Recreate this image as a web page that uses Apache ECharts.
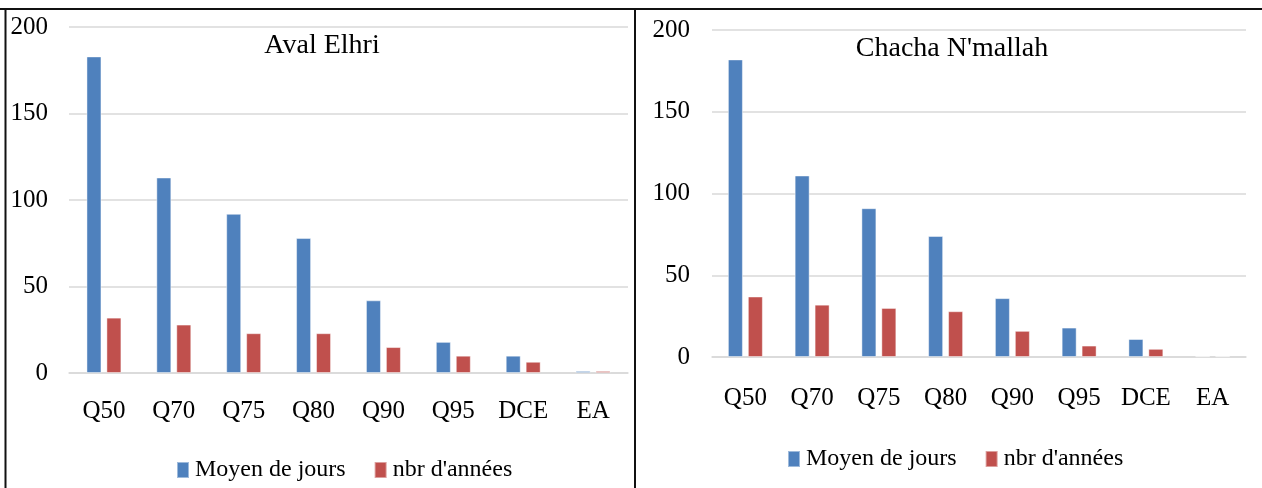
<!DOCTYPE html>
<html>
<head>
<meta charset="utf-8">
<script src="https://cdn.jsdelivr.net/npm/echarts@6/dist/echarts.min.js"></script>
<style>
html,body{margin:0;padding:0;background:#fff;}
#c{width:1262px;height:488px;}
</style>
</head>
<body>
<div id="c"></div>
<script>
const categories = ['Q50','Q70','Q75','Q80','Q90','Q95','DCE','EA'];
const yTicks = [0, 50, 100, 150, 200];
const titleLeft = 'Aval Elhri';
const titleRight = "Chacha N'mallah";
const seriesNames = ['Moyen de jours', "nbr d'années"];
const avalMoyen = [183, 113, 92, 78, 42, 18, 10, 1.2];
const avalAnnees = [32, 28, 23, 23, 15, 10, 6.5, 1.2];
const chachaMoyen = [182, 111, 91, 74, 36, 18, 11, 0.5];
const chachaAnnees = [37, 32, 30, 28, 16, 7, 5, 0.5];

const FONT = '"Liberation Serif", "DejaVu Serif", serif';
const BLUE = '#4F81BD', RED = '#C0504D';

const chart = echarts.init(document.getElementById('c'), null, {renderer: 'canvas'});

function xAxis(gi, margin) {
  return {
    type: 'category', gridIndex: gi, data: categories,
    axisTick: {show: false},
    axisLine: {lineStyle: {color: '#D9D9D9', width: 1.5}},
    axisLabel: {color: '#000', fontFamily: FONT, fontSize: 25, margin: margin, interval: 0}
  };
}
function yAxis(gi, margin) {
  return {
    type: 'value', gridIndex: gi, min: yTicks[0], max: yTicks[yTicks.length - 1],
    interval: yTicks[1] - yTicks[0],
    axisLine: {show: false}, axisTick: {show: false},
    splitLine: {lineStyle: {color: '#D9D9D9', width: 1.5}},
    axisLabel: {color: '#000', fontFamily: FONT, fontSize: 25, margin: margin}
  };
}
function bar(name, data, color, ai) {
  return {
    name: name, type: 'bar', data: data, xAxisIndex: ai, yAxisIndex: ai,
    barWidth: 15, barGap: '33%',
    itemStyle: {color: color, borderColor: 'rgba(255,255,255,0.45)', borderWidth: 1},
    emphasis: {disabled: true}
  };
}
function legend(left, top) {
  return {
    left: left, top: top, itemWidth: 12, itemHeight: 16, itemGap: 28,
    icon: 'rect', data: seriesNames,
    textStyle: {color: '#000', fontFamily: FONT, fontSize: 24, padding: [0, 0, 0, 1]}
  };
}

chart.setOption({
  animation: false,
  grid: [
    {left: 69, right: 634, top: 27, bottom: 115},
    {left: 712, right: 16, top: 30, bottom: 131}
  ],
  xAxis: [xAxis(0, 26), xAxis(1, 29)],
  yAxis: [yAxis(0, 21), yAxis(1, 22)],
  legend: [legend(171, 453), legend(782, 442)],
  series: [
    bar(seriesNames[0], avalMoyen, BLUE, 0),
    bar(seriesNames[1], avalAnnees, RED, 0),
    bar(seriesNames[0], chachaMoyen, BLUE, 1),
    bar(seriesNames[1], chachaAnnees, RED, 1)
  ],
  graphic: [
    {type: 'text', x: 322, y: 46, style: {text: titleLeft, font: '28px ' + FONT, fill: '#000', textAlign: 'center', textVerticalAlign: 'middle'}},
    {type: 'text', x: 952, y: 49, style: {text: titleRight, font: '28px ' + FONT, fill: '#000', textAlign: 'center', textVerticalAlign: 'middle'}},
    {type: 'line', shape: {x1: 0, y1: 9, x2: 1262, y2: 9}, style: {stroke: '#111', lineWidth: 2}},
    {type: 'line', shape: {x1: 5.5, y1: 9, x2: 5.5, y2: 488}, style: {stroke: '#111', lineWidth: 2}},
    {type: 'line', shape: {x1: 635, y1: 9, x2: 635, y2: 488}, style: {stroke: '#111', lineWidth: 2}}
  ]
});
</script>
</body>
</html>
